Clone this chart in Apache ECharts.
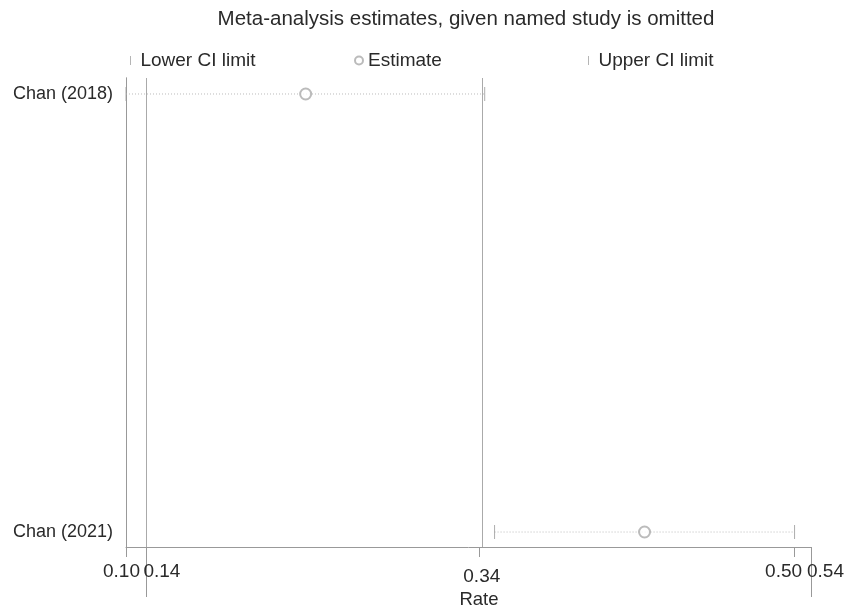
<!DOCTYPE html>
<html>
<head>
<meta charset="utf-8">
<script src="https://cdn.jsdelivr.net/npm/echarts@6/dist/echarts.min.js"></script>
<style>
  html, body { margin: 0; padding: 0; background: #fff; }
  #chart { width: 847px; height: 608px; }
</style>
</head>
<body>
<div id="chart"></div>
<script>
// data
const studies = ["Chan (2018)", "Chan (2021)"];
const estimate = [0.236, 0.424];
const lowerCI = [0.10, 0.348];
const upperCI = [0.343, 0.50];
const refLines = [0.14, 0.34]; // overall lower CI and estimate
const tickValues = [0.10, 0.14, 0.34, 0.50, 0.54];
const tickLabels = ["0.10", "0.14", "0.34", "0.50", "0.54"];

// the reference's axis is not linear: where each tick sits along the axis (0..1)
const tickFrac = [0, 0.029, 0.515, 0.976, 1];
const toAxis = (v) => {
  for (let i = 1; i < tickValues.length; i++) {
    if (v <= tickValues[i]) {
      const t = (v - tickValues[i - 1]) / (tickValues[i] - tickValues[i - 1]);
      return tickFrac[i - 1] + t * (tickFrac[i] - tickFrac[i - 1]);
    }
  }
  return 1;
};
const labelIndex = (p) => {
  let best = 0;
  tickFrac.forEach((f, i) => { if (Math.abs(f - p) < Math.abs(tickFrac[best] - p)) best = i; });
  return best;
};

const font = "Liberation Sans, Arial, Helvetica, sans-serif";
const ink = "#2a2a2a";
const capPath = "path://M0,0h1v10h-1z";
const grey = "#999";

const myChart = echarts.init(document.getElementById("chart"));

const option = {
  animation: false,
  textStyle: { fontFamily: font },
  title: {
    text: "Meta-analysis estimates, given named study is omitted",
    left: 466,
    top: 9,
    padding: 0,
    textAlign: "center",
    textStyle: { fontSize: 20.5, fontWeight: "normal", color: ink, fontFamily: font },
  },
  legend: [
    {
      data: [{ name: "Lower CI limit", icon: capPath }],
      left: 130, top: 51, padding: 0,
      itemWidth: 2, itemHeight: 9,
      textStyle: { fontSize: 19, color: ink, fontFamily: font, padding: [0, 0, 0, 4] },
    },
    {
      data: [{ name: "Estimate", icon: "emptyCircle" }],
      left: 354, top: 51, padding: 0,
      itemWidth: 8, itemHeight: 8,
      textStyle: { fontSize: 19, color: ink, fontFamily: font },
    },
    {
      data: [{ name: "Upper CI limit", icon: capPath }],
      left: 588, top: 51, padding: 0,
      itemWidth: 2, itemHeight: 9,
      textStyle: { fontSize: 19, color: ink, fontFamily: font, padding: [0, 0, 0, 4] },
    },
  ],
  grid: { left: 126, right: 36, top: 78, bottom: 61, outerBoundsMode: "none", containLabel: false },
  xAxis: [
    {
      type: "value",
      min: 0,
      max: 1,
      name: "Rate",
      nameLocation: "middle",
      nameGap: 43,
      nameTextStyle: { fontSize: 18.5, color: ink, fontFamily: font, padding: [0, 0, 0, 21] },
      axisLine: { show: true, onZero: false, lineStyle: { color: grey, width: 1 } },
      axisTick: {
        show: true,
        length: 10,
        lineStyle: { color: grey },
        customValues: [0.10, 0.34, 0.50].map(toAxis),
      },
      axisLabel: {
        margin: 15,
        customValues: tickValues.map(toAxis),
        formatter: (v) => {
          const i = labelIndex(v);
          return "{t" + i + "|" + tickLabels[i] + "}";
        },
        color: ink,
        fontSize: 19,
        fontFamily: font,
        rich: {
          t0: { fontSize: 19, fontFamily: font, color: ink, padding: [0, 9, 0, 0] },
          t1: { fontSize: 19, fontFamily: font, color: ink, padding: [0, 0, 0, 32] },
          t2: { fontSize: 19, fontFamily: font, color: ink, padding: [5, 0, 0, 6] },
          t3: { fontSize: 19, fontFamily: font, color: ink, padding: [0, 22, 0, 0] },
          t4: { fontSize: 19, fontFamily: font, color: ink, padding: [0, 0, 0, 29] },
        },
      },
      splitLine: { show: false },
    },
    {
      // long ticks under the 0.14 line and the right border
      type: "value",
      min: 0,
      max: 1,
      position: "bottom",
      axisLine: { show: false, onZero: false },
      axisTick: {
        show: true,
        length: 50,
        lineStyle: { color: grey },
        customValues: [toAxis(0.14), 1],
      },
      axisLabel: { show: false },
      splitLine: { show: false },
    },
  ],
  yAxis: [
    {
      type: "value",
      min: -0.0365,
      max: 1.0342,
      inverse: true,
      axisLine: { show: true, lineStyle: { color: grey, width: 1 } },
      axisTick: { show: false },
      splitLine: { show: false },
      axisLabel: {
        margin: 13,
        customValues: [0, 1],
        formatter: (v) => studies[Math.round(v)],
        color: ink,
        fontSize: 18,
        fontFamily: font,
      },
    },
    {
      type: "value",
      min: -0.0365,
      max: 1.0342,
      inverse: true,
      position: "right",
      axisLine: { show: true, lineStyle: { color: grey, width: 1 } },
      axisTick: { show: false },
      axisLabel: { show: false },
      splitLine: { show: false },
    },
  ],
  series: [
    {
      type: "custom",
      name: "ci",
      silent: true,
      data: studies.map((s, i) => [toAxis(lowerCI[i]), toAxis(upperCI[i]), i]),
      encode: { x: [0, 1], y: 2 },
      renderItem: (params, api) => {
        const a = api.coord([api.value(0), api.value(2)]);
        const b = api.coord([api.value(1), api.value(2)]);
        return {
          type: "line",
          shape: { x1: a[0], y1: a[1], x2: b[0], y2: b[1] },
          style: { stroke: "#bbb", lineWidth: 1, lineDash: [1, 2] },
        };
      },
      markLine: {
        silent: true,
        symbol: "none",
        label: { show: false },
        lineStyle: { color: "#aaa", width: 1, type: "solid" },
        data: refLines.map((v) => ({ xAxis: toAxis(v) })),
      },
    },
    {
      type: "scatter",
      name: "Lower CI limit",
      symbol: capPath,
      symbolSize: [1, 14],
      itemStyle: { color: grey },
      data: studies.map((s, i) => [toAxis(lowerCI[i]), i]),
    },
    {
      type: "scatter",
      name: "Upper CI limit",
      symbol: capPath,
      symbolSize: [1, 14],
      itemStyle: { color: grey },
      data: studies.map((s, i) => [toAxis(upperCI[i]), i]),
    },
    {
      type: "scatter",
      name: "Estimate",
      symbol: "emptyCircle",
      symbolSize: 11,
      itemStyle: { color: "#aaa", borderWidth: 1 },
      z: 5,
      data: studies.map((s, i) => [toAxis(estimate[i]), i]),
    },
  ],
};

myChart.setOption(option);
</script>
</body>
</html>
